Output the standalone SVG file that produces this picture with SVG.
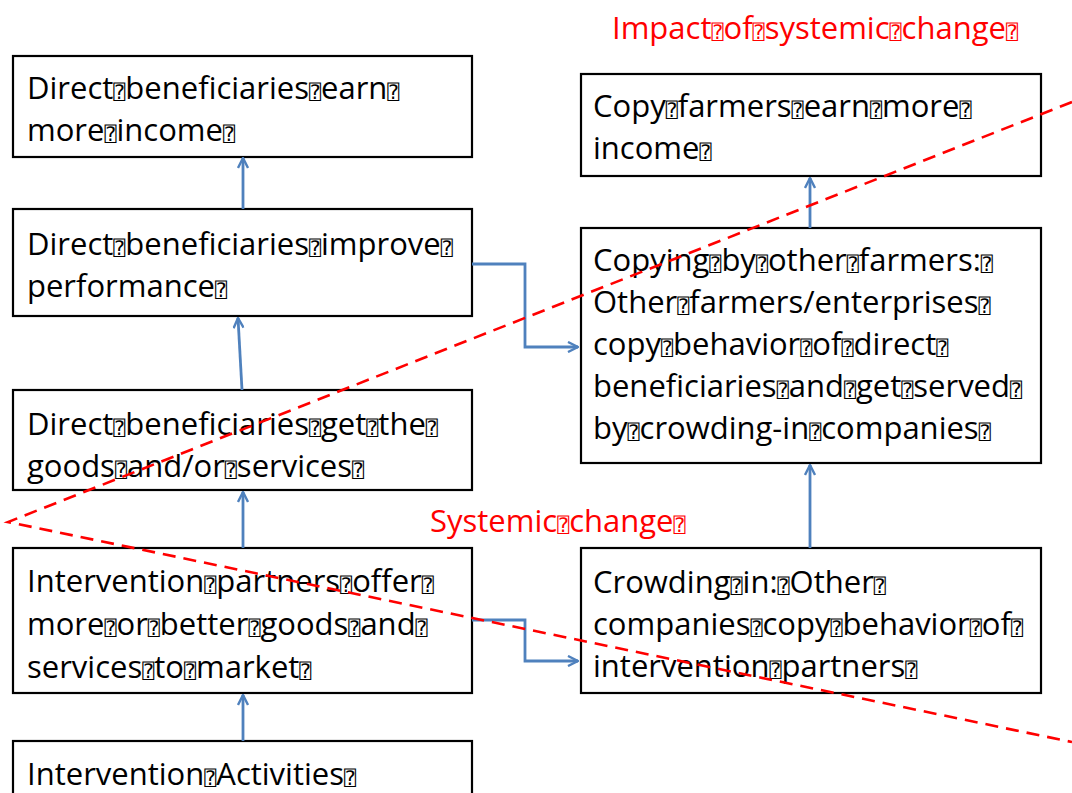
<svg xmlns="http://www.w3.org/2000/svg" width="1072" height="793" viewBox="0 0 1072 793">
<style>
.box{fill:#fff;stroke:#000;stroke-width:2.2}
.t{font-family:"Open Sans","Liberation Sans",sans-serif;font-size:31px;fill:#000}
.r{font-family:"Open Sans","Liberation Sans",sans-serif;font-size:31px;fill:#ff0000}
.q{font-family:"DejaVu Sans Mono","DejaVu Sans",monospace;font-size:20px}
.c{fill:none;stroke:#4f81bd;stroke-width:2.8;marker-end:url(#ah)}
.d{fill:none;stroke:#ff0000;stroke-width:2.6;stroke-dasharray:13 8}
</style>
<defs>
<marker id="ah" viewBox="0 0 12 12" refX="11" refY="6" markerWidth="12" markerHeight="12" markerUnits="userSpaceOnUse" orient="auto">
<path d="M1,1 L11,6 L1,11" fill="none" stroke="#4f81bd" stroke-width="2.4"/>
</marker>
</defs>
<rect width="1072" height="793" fill="#fff"/>

<g id="n1"><rect class="box" x="13" y="56" width="459" height="101"/>
<text class="t"><tspan x="27" y="99">Direct<tspan class="q">⍰</tspan>beneficiaries<tspan class="q">⍰</tspan>earn<tspan class="q">⍰</tspan></tspan><tspan x="27" y="141">more<tspan class="q">⍰</tspan>income<tspan class="q">⍰</tspan></tspan></text></g>

<g id="n2"><rect class="box" x="13" y="209" width="459" height="107"/>
<text class="t"><tspan x="27" y="255">Direct<tspan class="q">⍰</tspan>beneficiaries<tspan class="q">⍰</tspan>improve<tspan class="q">⍰</tspan></tspan><tspan x="27" y="297">performance<tspan class="q">⍰</tspan></tspan></text></g>

<g id="n3"><rect class="box" x="13" y="390" width="459" height="100"/>
<text class="t"><tspan x="27" y="435">Direct<tspan class="q">⍰</tspan>beneficiaries<tspan class="q">⍰</tspan>get<tspan class="q">⍰</tspan>the<tspan class="q">⍰</tspan></tspan><tspan x="27" y="477">goods<tspan class="q">⍰</tspan>and/or<tspan class="q">⍰</tspan>services<tspan class="q">⍰</tspan></tspan></text></g>

<g id="n4"><rect class="box" x="13" y="548" width="459" height="145"/>
<text class="t"><tspan x="27" y="592">Intervention<tspan class="q">⍰</tspan>partners<tspan class="q">⍰</tspan>offer<tspan class="q">⍰</tspan></tspan><tspan x="27" y="635">more<tspan class="q">⍰</tspan>or<tspan class="q">⍰</tspan>better<tspan class="q">⍰</tspan>goods<tspan class="q">⍰</tspan>and<tspan class="q">⍰</tspan></tspan><tspan x="27" y="678">services<tspan class="q">⍰</tspan>to<tspan class="q">⍰</tspan>market<tspan class="q">⍰</tspan></tspan></text></g>

<g id="n5"><rect class="box" x="13" y="741" width="459" height="70"/>
<text class="t"><tspan x="27" y="785">Intervention<tspan class="q">⍰</tspan>Activities<tspan class="q">⍰</tspan></tspan></text></g>

<g id="nA"><rect class="box" x="581" y="74" width="460" height="102"/>
<text class="t"><tspan x="593" y="117">Copy<tspan class="q">⍰</tspan>farmers<tspan class="q">⍰</tspan>earn<tspan class="q">⍰</tspan>more<tspan class="q">⍰</tspan></tspan><tspan x="593" y="159">income<tspan class="q">⍰</tspan></tspan></text></g>

<g id="nB"><rect class="box" x="581" y="228" width="460" height="235"/>
<text class="t"><tspan x="593" y="271">Copying<tspan class="q">⍰</tspan>by<tspan class="q">⍰</tspan>other<tspan class="q">⍰</tspan>farmers:<tspan class="q">⍰</tspan></tspan><tspan x="593" y="313">Other<tspan class="q">⍰</tspan>farmers/enterprises<tspan class="q">⍰</tspan></tspan><tspan x="593" y="355">copy<tspan class="q">⍰</tspan>behavior<tspan class="q">⍰</tspan>of<tspan class="q">⍰</tspan>direct<tspan class="q">⍰</tspan></tspan><tspan x="593" y="397">beneficiaries<tspan class="q">⍰</tspan>and<tspan class="q">⍰</tspan>get<tspan class="q">⍰</tspan>served<tspan class="q">⍰</tspan></tspan><tspan x="593" y="439">by<tspan class="q">⍰</tspan>crowding-in<tspan class="q">⍰</tspan>companies<tspan class="q">⍰</tspan></tspan></text></g>

<g id="nC"><rect class="box" x="581" y="548" width="460" height="145"/>
<text class="t"><tspan x="593" y="593">Crowding<tspan class="q">⍰</tspan>in:<tspan class="q">⍰</tspan>Other<tspan class="q">⍰</tspan></tspan><tspan x="593" y="635">companies<tspan class="q">⍰</tspan>copy<tspan class="q">⍰</tspan>behavior<tspan class="q">⍰</tspan>of<tspan class="q">⍰</tspan></tspan><tspan x="593" y="677">intervention<tspan class="q">⍰</tspan>partners<tspan class="q">⍰</tspan></tspan></text></g>

<g id="labels">
<text class="r" x="612" y="39">Impact<tspan class="q">⍰</tspan>of<tspan class="q">⍰</tspan>systemic<tspan class="q">⍰</tspan>change<tspan class="q">⍰</tspan></text>
<text class="r" x="430" y="532">Systemic<tspan class="q">⍰</tspan>change<tspan class="q">⍰</tspan></text>
</g>

<g id="connectors">
<path class="c" d="M243,209 L243,158"/>
<path class="c" d="M242,390 L238,318"/>
<path class="c" d="M243,548 L243,492"/>
<path class="c" d="M243,741 L243,695"/>
<path class="c" d="M810,228 L810,178"/>
<path class="c" d="M810,548 L810,465"/>
<path class="c" d="M472,264 L525,264 L525,347 L578,347"/>
<path class="c" d="M472,620 L525,620 L525,661 L578,661"/>
</g>

<g id="dashed">
<path class="d" d="M1072,102 L8,522 L1072,742"/>
</g>
</svg>
